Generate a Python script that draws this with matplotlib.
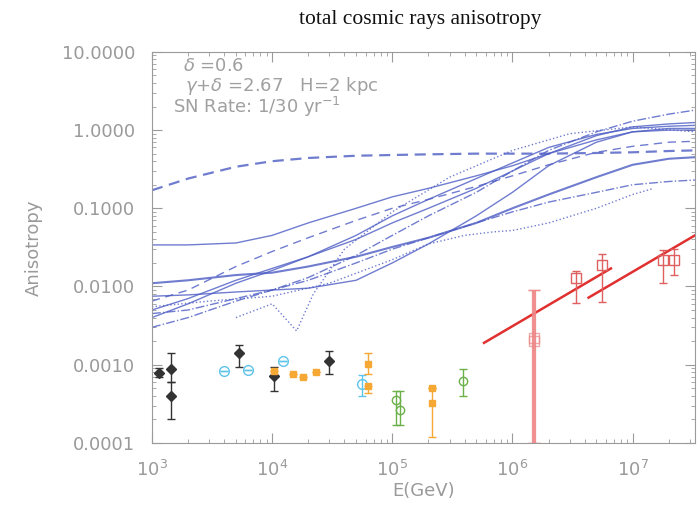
import numpy as np
import matplotlib
matplotlib.use("Agg")
import matplotlib.pyplot as plt

# model curves (E in GeV, anisotropy)
E_grid = [1e3, 2e3, 5e3, 1e4, 2e4, 5e4, 1e5, 2e5, 5e5, 1e6, 2e6, 5e6, 1e7, 2e7, 3.3e7]
c_dash_top = [0.17, 0.24, 0.34, 0.40, 0.44, 0.47, 0.48, 0.49, 0.50, 0.50, 0.50, 0.51, 0.52, 0.54, 0.55]
c_solid_a = [0.034, 0.034, 0.036, 0.045, 0.065, 0.10, 0.14, 0.18, 0.26, 0.35, 0.50, 0.75, 0.95, 1.05, 1.05]
c_dash_b = [0.0065, 0.009, 0.018, 0.028, 0.042, 0.07, 0.10, 0.13, 0.19, 0.26, 0.36, 0.52, 0.62, 0.70, 0.72]
c_solid_c = [0.011, 0.012, 0.014, 0.015, 0.018, 0.024, 0.032, 0.042, 0.065, 0.10, 0.15, 0.25, 0.36, 0.43, 0.45]
c_solid_d = [0.004, 0.006, 0.011, 0.016, 0.024, 0.045, 0.08, 0.13, 0.24, 0.38, 0.60, 0.88, 1.05, 1.12, 1.15]
c_dashdot_e = [0.003, 0.004, 0.0065, 0.009, 0.013, 0.025, 0.045, 0.08, 0.16, 0.30, 0.55, 0.95, 1.3, 1.6, 1.8]
c_solid_f = [0.0075, 0.0078, 0.0085, 0.009, 0.0095, 0.012, 0.02, 0.035, 0.08, 0.16, 0.35, 0.70, 0.95, 1.0, 1.0]
c_dashdot_g = [0.0045, 0.005, 0.007, 0.009, 0.012, 0.02, 0.03, 0.042, 0.065, 0.09, 0.12, 0.16, 0.20, 0.22, 0.23]
c_solid_h = [0.005, 0.007, 0.012, 0.017, 0.024, 0.04, 0.065, 0.10, 0.18, 0.30, 0.50, 0.85, 1.1, 1.2, 1.25]
E_dot_i = [1e3, 3e3, 1e4, 3e4, 1e5, 2e5, 4e5, 7e5, 1e6, 2e6, 5e6, 1e7, 1.5e7]
c_dot_i = [0.0055, 0.0065, 0.0075, 0.011, 0.022, 0.035, 0.045, 0.05, 0.052, 0.065, 0.10, 0.15, 0.18]
E_dot_j = [5e3, 1e4, 1.6e4, 2.2e4, 4e4, 1e5, 3e5, 1e6, 3e6, 1e7, 3.3e7]
c_dot_j = [0.004, 0.006, 0.0027, 0.008, 0.03, 0.09, 0.25, 0.55, 0.9, 1.1, 0.95]

curves = [
    (E_grid, c_dash_top, (0, (5, 3)), 1.6),
    (E_grid, c_solid_a, '-', 1.0),
    (E_grid, c_dash_b, (0, (6, 4)), 1.0),
    (E_grid, c_solid_c, '-', 1.5),
    (E_grid, c_solid_d, '-', 1.0),
    (E_grid, c_dashdot_e, '-.', 1.0),
    (E_grid, c_solid_f, '-', 1.0),
    (E_grid, c_dashdot_g, '-.', 1.0),
    (E_grid, c_solid_h, '-', 1.0),
    (E_dot_i, c_dot_i, ':', 1.0),
    (E_dot_j, c_dot_j, ':', 1.0),
]

# red fits
red1_E = [5.8e5, 6.6e6]
red1_A = [0.0019, 0.017]
red2_E = [4.3e6, 3.3e7]
red2_A = [0.0072, 0.045]

# measurements: E, A, upper, lower
black_E = [1.15e3, 1.45e3, 1.45e3, 5.3e3, 1.04e4, 3.0e4]
black_A = [0.00078, 0.00087, 0.0004, 0.0014, 0.00072, 0.0011]
black_hi = [0.0009, 0.0014, 0.0006, 0.0018, 0.00094, 0.0015]
black_lo = [0.0007, 0.0006, 0.0002, 0.00093, 0.00046, 0.00077]

cyan_E = [4.0e3, 6.3e3, 1.24e4, 5.6e4]
cyan_A = [0.00084, 0.00086, 0.0011, 0.00057]
cyan_hi = [0.00084, 0.00086, 0.0011, 0.00073]
cyan_lo = [0.00084, 0.00086, 0.0011, 0.00040]

orange_E = [1.04e4, 1.5e4, 1.8e4, 2.3e4, 6.3e4, 6.3e4, 2.15e5, 2.15e5]
orange_A = [0.00084, 0.00077, 0.00069, 0.00081, 0.00102, 0.00054, 0.00051, 0.00032]
orange_hi = [0.00084, 0.00077, 0.00069, 0.00081, 0.0014, 0.00054, 0.00051, 0.00051]
orange_lo = [0.00084, 0.00077, 0.00069, 0.00081, 0.00077, 0.00044, 0.00051, 0.00012]

green_E = [1.07e5, 1.17e5, 3.9e5]
green_A = [0.00035, 0.00026, 0.00062]
green_hi = [0.00046, 0.00046, 0.00088]
green_lo = [0.00017, 0.00017, 0.0004]

red_E = [3.4e6, 5.6e6, 1.8e7, 2.2e7]
red_A = [0.013, 0.019, 0.022, 0.022]
red_hi = [0.016, 0.026, 0.029, 0.030]
red_lo = [0.0062, 0.0063, 0.011, 0.014]
red_big_E = [1.5e6, 1.5e6]
red_big_A = [0.0022, 0.0020]
red_big_hi = [0.0089, 0.0089]
red_big_lo = [0.0001, 0.0001]

gray = '#9a9a9a'
blue = '#4c5cc4'

fig = plt.figure(figsize=(6.97, 5.09), dpi=100)
ax = fig.add_axes([0.218, 0.130, 0.779, 0.768])

for E, A, ls, lw in curves:
    ax.plot(E, A, color=blue, ls=ls, lw=lw, alpha=0.8)

ax.plot(red1_E, red1_A, color='#e03030', lw=1.8)
ax.plot(red2_E, red2_A, color='#e03030', lw=1.8)


def errs(E, A, hi, lo, color, marker, mfc, ms=6, lw=1.0, alpha=1.0, cap=3):
    A = np.array(A)
    yerr = [A - np.array(lo), np.array(hi) - A]
    ax.errorbar(E, A, yerr=yerr, fmt=marker, color=color, mfc=mfc, mec=color,
                ms=ms, elinewidth=lw, capsize=cap, alpha=alpha)


errs(red_big_E, red_big_A, red_big_hi, red_big_lo, '#ee8888', 's', 'none', ms=7, lw=3, alpha=0.75, cap=4)
errs(black_E, black_A, black_hi, black_lo, '#333333', 'D', '#333333', ms=5)
errs(cyan_E, cyan_A, cyan_hi, cyan_lo, '#5ec4ea', 'o', 'none', ms=7)
errs(orange_E, orange_A, orange_hi, orange_lo, '#f5a833', 's', '#f5a833', ms=5)
errs(green_E, green_A, green_hi, green_lo, '#6cb04a', 'o', 'none', ms=6)
errs(red_E, red_A, red_hi, red_lo, '#e06060', 's', 'none', ms=7)

ax.set_xscale('log')
ax.set_yscale('log')
ax.set_xlim(1e3, 3.3e7)
ax.set_ylim(1e-4, 10)
ax.set_yticks([1e-4, 1e-3, 1e-2, 1e-1, 1, 10])
ax.set_yticklabels(['0.0001', '0.0010', '0.0100', '0.1000', '1.0000', '10.0000'])
ax.tick_params(which='both', direction='in', top=True, right=True, colors=gray,
               labelsize=13, labelcolor=gray)
ax.tick_params(which='major', length=7)
ax.tick_params(which='minor', length=3)
ax.tick_params(axis='x', pad=12)
ax.tick_params(axis='y', pad=12)
for s in ax.spines.values():
    s.set_color(gray)

ax.set_xlabel('E(GeV)', color=gray, fontsize=13, labelpad=2)
ax.set_ylabel('Anisotropy', color=gray, fontsize=13, labelpad=14)
fig.text(0.603, 0.962, 'total cosmic rays anisotropy', ha='center', va='center',
         family='Liberation Serif', fontsize=15.5, color='#111111')

txt = dict(transform=ax.transAxes, color='#a0a0a0', fontsize=13, va='center')
ax.text(0.057, 0.963, r'$\delta$ =0.6', **txt)
ax.text(0.061, 0.913, r'$\gamma$+$\delta$ =2.67   H=2 kpc', **txt)
ax.text(0.039, 0.860, r'SN Rate: 1/30 yr$^{-1}$', **txt)

fig.savefig('out.png', dpi=100)
